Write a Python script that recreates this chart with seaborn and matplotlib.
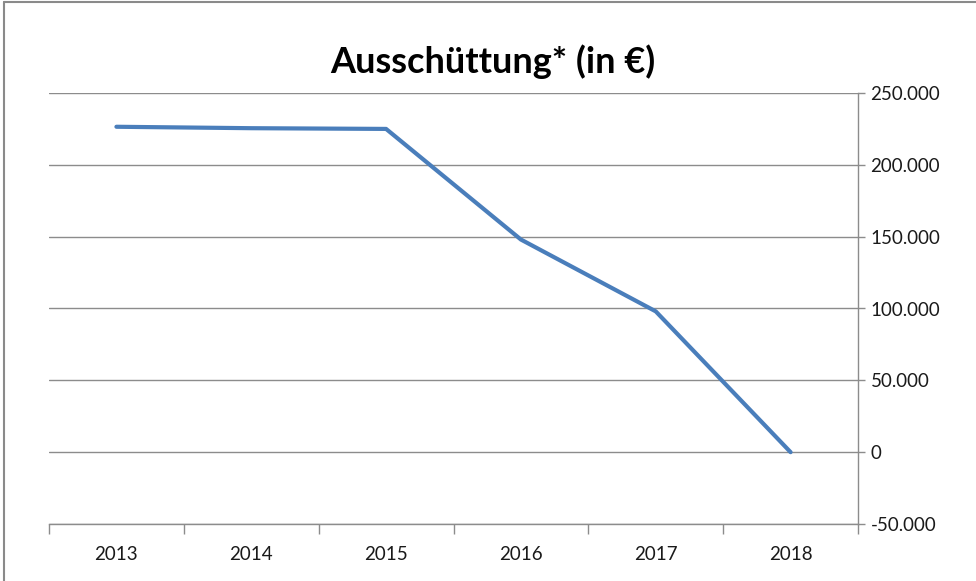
"""Ausschüttung line chart, Excel-style layout."""

import matplotlib.pyplot as plt
from matplotlib.lines import Line2D
from matplotlib.ticker import FixedLocator, FuncFormatter, MultipleLocator
import pandas as pd
import seaborn as sns

years = ["2013", "2014", "2015", "2016", "2017", "2018"]
payout = [226500, 225500, 225000, 148000, 98000, 0]
y_ticks = [-50000, 0, 50000, 100000, 150000, 200000, 250000]
title = "Ausschüttung* (in €)"

sns.set_theme(style="white")
plt.rcParams["font.family"] = ["Lato", "DejaVu Sans"]

grid_grey = "#8c8c8c"
line_blue = "#4a7ebb"

frame = pd.DataFrame({"Jahr": years, "Ausschüttung": payout})

fig = plt.figure(figsize=(9.76, 5.81), dpi=100)
ax = fig.add_axes([49 / 976, 57 / 581, 809 / 976, 431 / 581])

sns.lineplot(data=frame, x="Jahr", y="Ausschüttung", ax=ax,
             color=line_blue, linewidth=3.0, solid_capstyle="round")

ax.set_xlim(-0.5, len(years) - 0.5)
ax.set_ylim(y_ticks[0], y_ticks[-1])
ax.set_xlabel("")
ax.set_ylabel("")

# y axis on the right, German thousands separator
ax.yaxis.tick_right()
ax.yaxis.set_major_locator(FixedLocator(y_ticks))
ax.yaxis.set_major_formatter(FuncFormatter(lambda v, _: f"{v:,.0f}".replace(",", ".")))
ax.tick_params(axis="y", which="major", direction="out", length=5, width=1,
               color=grid_grey, labelsize=13.5, pad=4, labelcolor="#1a1a1a")
ax.grid(axis="y", color=grid_grey, linewidth=1)

# category labels between boundary tick marks
ax.xaxis.set_minor_locator(MultipleLocator(1, offset=0.5))
ax.tick_params(axis="x", which="major", length=0, labelsize=13.5, pad=16,
               labelcolor="#1a1a1a")
ax.tick_params(axis="x", which="minor", direction="out", length=7, width=1,
               color=grid_grey, bottom=True)

for side in ["left", "top"]:
    ax.spines[side].set_visible(False)
for side in ["right", "bottom"]:
    ax.spines[side].set_color(grid_grey)
    ax.spines[side].set_linewidth(1)

fig.text(0.505, 0.893, title, ha="center", va="center",
         fontsize=26, fontweight="bold", color="black")

# chart frame (only top and left edges are visible in the crop)
fig.add_artist(Line2D([4 / 976, 1], [1 - 2 / 581, 1 - 2 / 581],
                      transform=fig.transFigure, color="#8a8a8a", linewidth=1.5))
fig.add_artist(Line2D([4 / 976, 4 / 976], [0, 1 - 2 / 581],
                      transform=fig.transFigure, color="#8a8a8a", linewidth=1.5))

fig.savefig("out.png", dpi=100)
plt.close(fig)
